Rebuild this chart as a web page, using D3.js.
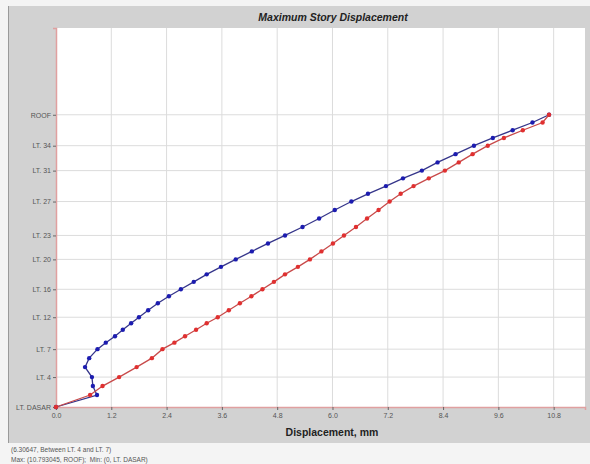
<!DOCTYPE html>
<html><head><meta charset="utf-8">
<script src="https://cdn.jsdelivr.net/npm/d3@7"></script>
<style>
html,body{margin:0;padding:0;background:#f2f2f2;}
svg{display:block;font-family:"Liberation Sans",Arial,sans-serif;}
</style></head>
<body>
<svg id="c" width="590" height="464"></svg>
<script>
// Story names and elevations (m)
const stories = ["LT. DASAR","LT. 2","LT. 3","LT. 4","LT. 5","LT. 6","LT. 7","LT. 8","LT. 9","LT. 10","LT. 11","LT. 12","LT. 13","LT. 14","LT. 15","LT. 16","LT. 17","LT. 18","LT. 19","LT. 20","LT. 21","LT. 22","LT. 23","LT. 24","LT. 25","LT. 26","LT. 27","LT. 28","LT. 29","LT. 30","LT. 31","LT. 32","LT. 33","LT. 34","LT. 35","LT. 36","LT. 37","ROOF"];
const elevations = [0,4.8,8.4,12.0,16.0,19.6,23.2,25.8,28.4,31.0,33.6,36.0,38.8,41.6,44.4,47.2,50.2,53.2,56.2,59.2,62.4,65.6,68.8,72.2,75.6,79.0,82.4,85.5,88.6,91.7,94.8,98.1,101.4,104.8,107.9,111.0,114.1,117.2];
// Displacement series (mm)
const blueValues = [0,0.89,0.80,0.78,0.63,0.72,0.90,1.08,1.28,1.45,1.63,1.80,2.00,2.21,2.45,2.71,2.99,3.27,3.58,3.90,4.25,4.60,4.97,5.35,5.71,6.05,6.41,6.77,7.16,7.53,7.94,8.28,8.67,9.07,9.48,9.91,10.34,10.70];
const redValues = [0,0.74,1.01,1.37,1.75,2.08,2.31,2.57,2.80,3.04,3.27,3.51,3.75,3.99,4.24,4.48,4.73,4.97,5.25,5.51,5.76,6.01,6.25,6.51,6.75,7.00,7.24,7.48,7.76,8.09,8.44,8.74,9.04,9.37,9.72,10.13,10.56,10.70];
const labeledStories = ["ROOF","LT. 34","LT. 31","LT. 27","LT. 23","LT. 20","LT. 16","LT. 12","LT. 7","LT. 4","LT. DASAR"];
const xTicks = [0,1.2,2.4,3.6,4.8,6.0,7.2,8.4,9.6,10.8];
const title = "Maximum Story Displacement";
const xTitle = "Displacement, mm";
const status1 = "(6.30647, Between LT. 4 and LT. 7)";
const status2 = "Max: (10.793045, ROOF);  Min: (0, LT. DASAR)";

const svg = d3.select("#c");
// frame
svg.append("rect").attr("x",0).attr("y",0).attr("width",590).attr("height",464).attr("fill","#f4f4f4");
svg.append("rect").attr("x",8).attr("y",6).attr("width",582).attr("height",437).attr("fill","#d2d2d2");
svg.append("line").attr("x1",8.5).attr("x2",8.5).attr("y1",6).attr("y2",443).attr("stroke","#9a9a9a");

const x = d3.scaleLinear().domain([0,11.48]).range([56,585]);
const y = d3.scaleLinear().domain([0,152]).range([407,28]);

svg.append("rect").attr("x",56).attr("y",28).attr("width",529).attr("height",379).attr("fill","#ffffff");

// grid
svg.append("g").selectAll("line").data(xTicks.slice(1)).join("line")
  .attr("x1",d=>x(d)).attr("x2",d=>x(d)).attr("y1",28).attr("y2",407)
  .attr("stroke","#dcdcdc").attr("stroke-width",1);
const labElev = labeledStories.map(s=>elevations[stories.indexOf(s)]);
svg.append("g").selectAll("line").data(labElev.filter(e=>e>0)).join("line")
  .attr("x1",56).attr("x2",585).attr("y1",d=>y(d)).attr("y2",d=>y(d))
  .attr("stroke","#dcdcdc").attr("stroke-width",1);

// axes
const xAxis = d3.axisBottom(x).tickValues(xTicks).tickFormat(d3.format(".1f")).tickSize(3).tickPadding(3);
const gx = svg.append("g").attr("transform","translate(0,407)").call(xAxis);
gx.select(".domain").attr("stroke","#e0a0a0").attr("stroke-width",1.5);
gx.selectAll(".tick line").attr("stroke","#666");
gx.selectAll("text").attr("font-size",7).attr("fill","#555").attr("font-family","Liberation Sans, Arial, sans-serif");

const yAxis = d3.axisLeft(y).tickValues(labElev).tickFormat((d,i)=>labeledStories[i]).tickSize(3).tickPadding(2);
const gy = svg.append("g").attr("transform","translate(56,0)").call(yAxis);
gy.select(".domain").attr("stroke","#e0a0a0").attr("stroke-width",1.5);
gy.selectAll(".tick line").attr("stroke","#666");
gy.selectAll("text").attr("font-size",7).attr("fill","#555").attr("font-family","Liberation Sans, Arial, sans-serif");

// lines
const line = d3.line().x(d=>x(d[0])).y(d=>y(d[1]));
const blueData = blueValues.map((v,i)=>[v,elevations[i]]);
const redData = redValues.map((v,i)=>[v,elevations[i]]);
svg.append("path").datum(blueData).attr("d",line).attr("fill","none").attr("stroke","#35358a").attr("stroke-width",1.3);
svg.append("g").selectAll("circle").data(blueData).join("circle")
  .attr("cx",d=>x(d[0])).attr("cy",d=>y(d[1])).attr("r",2.2).attr("fill","#1c1cb0");
svg.append("path").datum(redData).attr("d",line).attr("fill","none").attr("stroke","#c84a4a").attr("stroke-width",1.3);
svg.append("g").selectAll("circle").data(redData).join("circle")
  .attr("cx",d=>x(d[0])).attr("cy",d=>y(d[1])).attr("r",2.2).attr("fill","#e03030");

// titles
svg.append("text").attr("x",333).attr("y",21).attr("text-anchor","middle")
  .attr("font-size",10.5).attr("font-weight","bold").attr("font-style","italic").attr("fill","#222").text(title);
svg.append("text").attr("x",332).attr("y",436).attr("text-anchor","middle")
  .attr("font-size",10.5).attr("font-weight","bold").attr("fill","#222").text(xTitle);
svg.append("text").attr("x",11).attr("y",452).attr("font-size",6.5).attr("fill","#555").text(status1);
svg.append("text").attr("x",11).attr("y",462).attr("font-size",6.5).attr("fill","#555").attr("xml:space","preserve").text(status2);
</script>
</body></html>
